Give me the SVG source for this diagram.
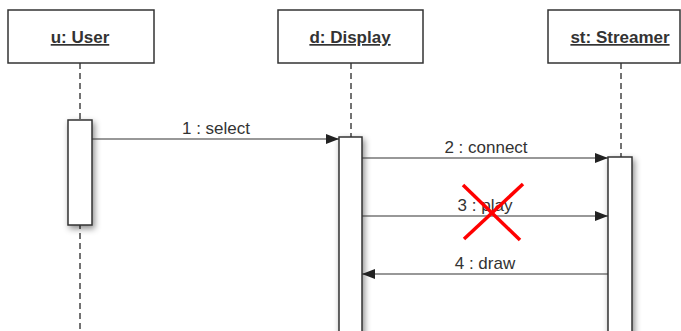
<svg xmlns="http://www.w3.org/2000/svg" width="681" height="331" viewBox="0 0 681 331">
<defs>
<style>
.box{fill:#fff;stroke:#333;stroke-width:1.5}
.title{font-family:"Liberation Sans",Arial,sans-serif;font-size:17px;font-weight:bold;fill:#333;text-anchor:middle;text-decoration:underline}
.life{stroke:#444;stroke-width:1.5;stroke-dasharray:6,4;fill:none}
.act{fill:#fff;stroke:#333;stroke-width:1.5;filter:url(#sh)}
.msg{stroke:#333;stroke-width:1.2;fill:none}
.lbl{font-family:"Liberation Sans",Arial,sans-serif;font-size:17px;fill:#333;text-anchor:middle}
.x{stroke:#f00;stroke-width:3.5}
</style>
<filter id="sh" x="-50%" y="-10%" width="200%" height="130%">
<feDropShadow dx="2" dy="3" stdDeviation="3" flood-color="#000" flood-opacity="0.45"/>
</filter>
<marker id="ah" viewBox="0 0 13 10" refX="13" refY="5" markerWidth="13" markerHeight="10" markerUnits="userSpaceOnUse" orient="auto">
<path d="M0,0 L13,5 L0,10 z" fill="#222"/>
</marker>
</defs>
<g id="lifelines">
<line class="life" x1="80" y1="63" x2="80" y2="331"/>
<line class="life" x1="351" y1="63" x2="351" y2="137"/>
<line class="life" x1="621" y1="63" x2="621" y2="157"/>
</g>
<g id="user">
<rect class="box" x="8" y="10" width="146" height="53"/>
<text class="title" x="80" y="43">u: User</text>
<rect class="act" x="68" y="120" width="24" height="105"/>
</g>
<g id="display">
<rect class="box" x="278" y="10" width="145" height="53"/>
<text class="title" x="350" y="43">d: Display</text>
<rect class="act" x="339" y="137" width="23" height="200"/>
</g>
<g id="streamer">
<rect class="box" x="548" y="10" width="132" height="53"/>
<text class="title" x="620" y="43">st: Streamer</text>
<rect class="act" x="608" y="157" width="24" height="180"/>
</g>
<g id="connectors">
<line class="msg" x1="92" y1="139" x2="339" y2="139" marker-end="url(#ah)"/>
<text class="lbl" x="216" y="134">1 : select</text>
<line class="msg" x1="362" y1="158" x2="608" y2="158" marker-end="url(#ah)"/>
<text class="lbl" x="486" y="153">2 : connect</text>
<line class="msg" x1="362" y1="216" x2="608" y2="216" marker-end="url(#ah)"/>
<text class="lbl" x="485" y="211">3 : play</text>
<line class="msg" x1="608" y1="274" x2="362" y2="274" marker-end="url(#ah)"/>
<text class="lbl" x="485" y="269">4 : draw</text>
</g>
<g id="cross">
<line class="x" x1="463" y1="185" x2="520" y2="240"/>
<line class="x" x1="523" y1="184" x2="464" y2="239"/>
</g>
</svg>
